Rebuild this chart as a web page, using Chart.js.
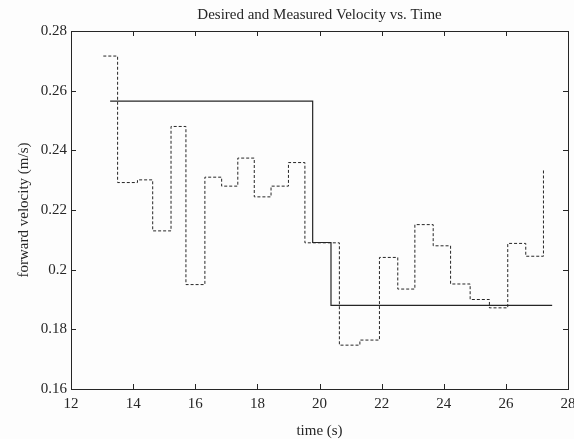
<!DOCTYPE html>
<html>
<head>
<meta charset="utf-8">
<title>Desired and Measured Velocity vs. Time</title>
<script src="https://cdn.jsdelivr.net/npm/chart.js@4.4.1/dist/chart.umd.min.js"></script>
<style>
  html, body { margin: 0; padding: 0; background: #fdfdfd; }
  #wrap { width: 574px; height: 439px; position: relative; }
</style>
</head>
<body>
<div id="wrap"><canvas id="velocity-chart"></canvas></div>
<script>
'use strict';

// ── Data ──────────────────────────────────────────────────────────────────
// Measured velocity: each sample holds until the next time stamp.
const MEASURED_T = [13.04, 13.50, 14.14, 14.63, 15.22, 15.70, 16.31, 16.85, 17.37, 17.90,
                    18.44, 19.00, 19.53, 20.64, 21.30, 21.93, 22.52, 23.07, 23.66, 24.22,
                    24.85, 25.47, 26.06, 26.64, 27.21];
const MEASURED_V = [0.2716, 0.2292, 0.2301, 0.2130, 0.2480, 0.1950, 0.2310, 0.2280, 0.2374, 0.2244,
                    0.2280, 0.2359, 0.2090, 0.1747, 0.1764, 0.2041, 0.1935, 0.2151, 0.2080, 0.1952,
                    0.1900, 0.1872, 0.2088, 0.2045, 0.2339];

// Desired velocity (solid)
const DESIRED_T = [13.26, 19.78, 20.37, 27.49];
const DESIRED_V = [0.2565, 0.2091, 0.1880, 0.1880];

// Axis ticks
const TIME_TICKS = [12, 14, 16, 18, 20, 22, 24, 26, 28];
const VEL_TICKS  = ['0.16', '0.18', '0.2', '0.22', '0.24', '0.26', '0.28'];

// ── Style ──────────────────────────────────────────────────────────────────
const INK       = '#262626';
const FONT      = '"Liberation Serif", "DejaVu Serif", serif';
const TICK_LEN  = 5;

function toPoints(xs, ys) {
  return xs.map(function (x, i) { return { x: x, y: ys[i] }; });
}

/** MATLAB-style box with inward tick marks on all four sides. */
const boxTicksPlugin = {
  id: 'boxTicks',
  afterDraw: function (chart) {
    const ctx = chart.ctx;
    const area = chart.chartArea;
    const xs = chart.scales.x;
    const ys = chart.scales.y;
    ctx.save();
    ctx.strokeStyle = INK;
    ctx.lineWidth = 1;
    ctx.strokeRect(area.left + 0.5, area.top + 0.5, area.right - area.left, area.bottom - area.top);
    ctx.beginPath();
    xs.ticks.forEach(function (t) {
      const px = Math.round(xs.getPixelForValue(t.value)) + 0.5;
      ctx.moveTo(px, area.bottom);
      ctx.lineTo(px, area.bottom - TICK_LEN);
      ctx.moveTo(px, area.top);
      ctx.lineTo(px, area.top + TICK_LEN);
    });
    ys.ticks.forEach(function (t) {
      const py = Math.round(ys.getPixelForValue(t.value)) + 0.5;
      ctx.moveTo(area.left, py);
      ctx.lineTo(area.left + TICK_LEN, py);
      ctx.moveTo(area.right, py);
      ctx.lineTo(area.right - TICK_LEN, py);
    });
    ctx.stroke();
    ctx.restore();
  },
};

new Chart(document.getElementById('velocity-chart'), {
  type: 'line',
  data: {
    datasets: [
      {
        label: 'desired',
        data: toPoints(DESIRED_T, DESIRED_V),
        stepped: 'before',
        borderColor: INK,
        borderWidth: 1.2,
        pointRadius: 0,
        fill: false,
      },
      {
        label: 'measured',
        data: toPoints(MEASURED_T, MEASURED_V),
        stepped: 'before',
        borderColor: INK,
        borderWidth: 1,
        borderDash: [3, 2],
        pointRadius: 0,
        fill: false,
      },
    ],
  },
  plugins: [boxTicksPlugin],
  options: {
    responsive: true,
    maintainAspectRatio: false,
    animation: false,
    layout: { padding: { left: 0, right: 6, top: 0, bottom: 0 } },
    plugins: {
      legend: { display: false },
      tooltip: { enabled: false },
      title: {
        display: true,
        fullSize: false, // centre over the axes, like MATLAB
        text: 'Desired and Measured Velocity vs. Time',
        color: INK,
        font: { family: FONT, size: 15, weight: 'normal', lineHeight: 1.2 },
        padding: { top: 6, bottom: 7 },
      },
    },
    scales: {
      x: {
        type: 'linear',
        min: 12,
        max: 28,
        afterBuildTicks: function (scale) {
          scale.ticks = TIME_TICKS.map(function (v) { return { value: v }; });
        },
        afterFit: function (scale) {
          scale.height = 50;
          // the "28" label may hang past the box; don't shrink the axes for it
          scale.paddingLeft = 0;
          scale.paddingRight = 0;
        },
        grid: { display: false, drawTicks: false },
        border: { display: false },
        ticks: {
          color: INK,
          padding: 6,
          maxRotation: 0,
          font: { family: FONT, size: 15 },
          callback: function (v) { return String(v); },
        },
        title: {
          display: true,
          text: 'time (s)',
          color: INK,
          font: { family: FONT, size: 15, lineHeight: 1.0 },
          padding: { top: 0, bottom: 0 },
        },
      },
      y: {
        type: 'linear',
        min: 0.16,
        max: 0.28,
        afterBuildTicks: function (scale) {
          scale.ticks = VEL_TICKS.map(function (s) { return { value: Number(s) }; });
        },
        afterFit: function (scale) { scale.width = 71; },
        grid: { display: false, drawTicks: false },
        border: { display: false },
        ticks: {
          color: INK,
          padding: 4,
          font: { family: FONT, size: 15 },
          callback: function (v) {
            const i = VEL_TICKS.map(Number).indexOf(Number(v.toFixed(2)));
            return i >= 0 ? VEL_TICKS[i] : '';
          },
        },
        title: {
          display: true,
          text: 'forward velocity (m/s)',
          color: INK,
          font: { family: FONT, size: 15, lineHeight: 1.2 },
          padding: { top: 15, bottom: 0 },
        },
      },
    },
  },
});
</script>
</body>
</html>
